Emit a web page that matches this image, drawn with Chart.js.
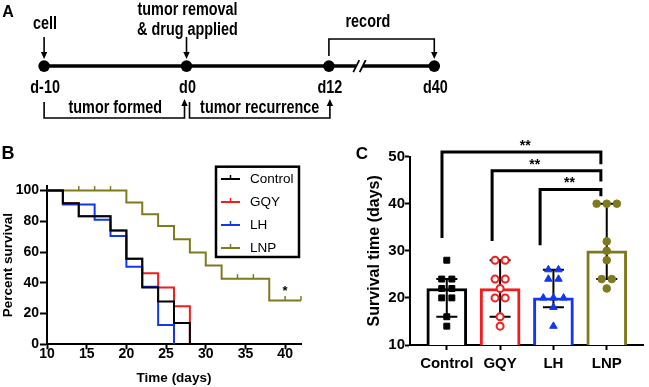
<!DOCTYPE html>
<html>
<head>
<meta charset="utf-8">
<script src="https://cdn.jsdelivr.net/npm/chart.js@4.4.0/dist/chart.umd.min.js"></script>
<style>
  body { margin: 0; background: #fff; }
  #fig { position: relative; width: 649px; height: 387px; overflow: hidden; background: #fff; }
  #fig canvas { position: absolute; }
</style>
</head>
<body>
<div id="fig">
  <canvas id="timeline" width="649" height="130" style="left:0;top:0"></canvas>
  <canvas id="survivalCurve" width="330" height="247" style="left:0;top:140px"></canvas>
  <canvas id="survivalBars" width="319" height="257" style="left:330px;top:130px"></canvas>
</div>
<script>
// ---- A: experiment timeline ----
const timelineDays = [-10, 0, 12, 40];
const timelineLabels = ["d-10", "d0", "d12", "d40"];
const timelineSegments = [1, 1, 0.74]; // last segment is drawn with an axis break

// ---- B: Kaplan-Meier survival ----
const groups = ["Control", "GQY", "LH", "LNP"];
const groupColors = ["#000000", "#f41c1c", "#1436f2", "#7f7a1e"];
const controlTimes = [10, 12, 14, 18, 20, 22, 24, 26, 28];
const controlSurvival = [100, 91.7, 83.3, 74.1, 55.6, 37, 27.8, 13.9, 0];
const gqyTimes = [10, 12, 14, 18, 20, 22, 24, 26, 28];
const gqySurvival = [100, 91.7, 83.3, 74.1, 55.6, 46.3, 37, 24.7, 0];
const lhTimes = [10, 12, 16, 18, 20, 22, 24, 26];
const lhSurvival = [100, 91, 81, 70.5, 50.5, 37.5, 12.5, 0];
const lnpTimes = [10, 20, 22, 24, 26, 28, 30, 32, 38, 42];
const lnpSurvival = [100, 92.3, 84.6, 76.9, 68.3, 59.8, 51.2, 42.7, 28.5, 28.5];
const lnpCensored = [14, 16, 18, 34, 36, 40, 42];
const kmXTicks = [10, 15, 20, 25, 30, 35, 40];
const kmYTicks = [0, 20, 40, 60, 80, 100];

// ---- C: survival time per mouse ----
const barMedian = [22, 22, 20, 30];
const barLow = [16, 16, 18, 24];
const barHigh = [24, 28, 26, 40];
const controlDays = [28, 24, 24, 22, 22, 20, 20, 16, 14];
const gqyDays = [28, 28, 24, 24, 22, 20, 20, 16, 14];
const lhDays = [26, 26, 24, 24, 20, 20, 20, 18, 14];
const lnpDays = [40, 40, 40, 32, 30, 28, 24, 24, 22];
const barYTicks = [10, 20, 30, 40, 50];
const sigLabels = ["**", "**", "**"];
const sigLevel = [51, 47, 43];
const sigLeftEnd = [32.7, 32.1, 31.2];
const sigRightEnd = [48.4, 44.7, 41.6];

const FONT = '"Liberation Sans", Arial, sans-serif';

function narrowText(ctx, text, x, y, size) {
  ctx.save();
  ctx.translate(x, y);
  ctx.scale(0.8, 1);
  ctx.font = "bold " + size + "px " + FONT;
  ctx.textAlign = "center";
  ctx.textBaseline = "middle";
  ctx.fillText(text, 0, 0);
  ctx.restore();
}

function arrowHead(ctx, x, tipY, dir) {
  // dir 1 = pointing down, -1 = pointing up
  ctx.beginPath();
  ctx.moveTo(x, tipY);
  ctx.lineTo(x - 3.2, tipY - dir * 7);
  ctx.lineTo(x + 3.2, tipY - dir * 7);
  ctx.closePath();
  ctx.fill();
}

function path(ctx, pts) {
  ctx.beginPath();
  ctx.moveTo(pts[0][0], pts[0][1]);
  for (let i = 1; i < pts.length; i++) ctx.lineTo(pts[i][0], pts[i][1]);
  ctx.stroke();
}

// ================= A =================
const stagePos = [0];
timelineSegments.forEach((s, i) => stagePos.push(stagePos[i] + s));

const timelinePlugin = {
  id: "timelineNotes",
  afterDatasetsDraw(chart) {
    const ctx = chart.ctx;
    const pts = chart.getDatasetMeta(0).data;
    const xs = pts.map(p => p.x);
    const yl = pts[0].y;
    ctx.save();
    ctx.fillStyle = "#000";
    ctx.strokeStyle = "#000";

    // axis break
    const bx = xs[2] + (xs[3] - xs[2]) * 0.29;
    ctx.fillStyle = "#fff";
    ctx.fillRect(bx - 3.5, yl - 3, 7, 6);
    ctx.fillStyle = "#000";
    ctx.lineWidth = 1.8;
    [-3.2, 3.2].forEach(dx => path(ctx, [[bx + dx - 3, yl + 6], [bx + dx + 3, yl - 6]]));

    ctx.lineWidth = 1.6;
    // arrows into timeline
    [0, 1].forEach(i => {
      path(ctx, [[xs[i], 37], [xs[i], 54]]);
      arrowHead(ctx, xs[i], 59, 1);
    });
    // record bracket
    path(ctx, [[xs[2], 56], [xs[2], 39], [xs[3], 39], [xs[3], 54]]);
    arrowHead(ctx, xs[3], 59, 1);
    // phase brackets below
    path(ctx, [[xs[0], 102], [xs[0], 118], [xs[1] - 2, 118], [xs[1] - 2, 104]]);
    arrowHead(ctx, xs[1] - 2, 99, -1);
    path(ctx, [[xs[1] + 3, 102], [xs[1] + 3, 118], [xs[2] + 1, 118], [xs[2] + 1, 104]]);
    arrowHead(ctx, xs[2] + 1, 99, -1);

    narrowText(ctx, "cell", xs[0] + 1, 24, 18);
    narrowText(ctx, "tumor removal", xs[1] + 1, 10.5, 18);
    narrowText(ctx, "& drug applied", xs[1] + 1, 30.5, 18);
    narrowText(ctx, "record", xs[2] + 39, 22, 18);
    timelineLabels.forEach((t, i) => narrowText(ctx, t, xs[i] + 1, 88, 18));
    narrowText(ctx, "tumor formed", (xs[0] + xs[1]) / 2, 108.5, 18);
    narrowText(ctx, "tumor recurrence", (xs[1] + xs[2]) / 2 + 2, 108.5, 18);

    ctx.font = "bold 16px " + FONT;
    ctx.textAlign = "center";
    ctx.textBaseline = "middle";
    ctx.fillText("A", 8, 13);
    ctx.restore();
  }
};

new Chart(document.getElementById("timeline"), {
  type: "scatter",
  data: {
    datasets: [{
      data: timelineDays.map((d, i) => ({ x: stagePos[i], y: 0 })),
      showLine: true,
      borderColor: "#000",
      borderWidth: 3.5,
      pointRadius: 5.8,
      pointBackgroundColor: "#000",
      pointBorderWidth: 0,
      clip: false
    }]
  },
  options: {
    responsive: false,
    animation: false,
    layout: { padding: { top: 8, left: 0, right: 0, bottom: 0 } },
    plugins: { legend: { display: false }, tooltip: { enabled: false } },
    scales: {
      x: { type: "linear", display: false, min: -0.269, max: 4.207 },
      y: { type: "linear", display: false, min: -1, max: 1 }
    }
  },
  plugins: [timelinePlugin]
});

// ================= B =================
const kmSeries = [
  { t: controlTimes, s: controlSurvival, order: 0 },
  { t: gqyTimes, s: gqySurvival, order: 2 },
  { t: lhTimes, s: lhSurvival, order: 1 },
  { t: lnpTimes, s: lnpSurvival, order: 3 }
];

function survivalAt(times, surv, t) {
  let v = surv[0];
  times.forEach((tt, i) => { if (tt <= t) v = surv[i]; });
  return v;
}

const kmPlugin = {
  id: "kmExtras",
  afterDraw(chart) {
    const ctx = chart.ctx;
    const { x, y } = chart.scales;
    ctx.save();
    // censored marks on LNP
    ctx.strokeStyle = groupColors[3];
    ctx.lineWidth = 1.5;
    lnpCensored.forEach(t => {
      const px = x.getPixelForValue(t);
      const py = y.getPixelForValue(survivalAt(lnpTimes, lnpSurvival, t));
      path(ctx, [[px, py], [px, py - 4.5]]);
    });
    // significance star
    ctx.fillStyle = "#000";
    ctx.font = "bold 13px " + FONT;
    ctx.textAlign = "center";
    ctx.textBaseline = "middle";
    ctx.fillText("*", x.getPixelForValue(40), y.getPixelForValue(34.5));

    // legend
    ctx.fillStyle = "#fff";
    ctx.fillRect(216, 26.7, 83, 90.3);
    ctx.strokeStyle = "#000";
    ctx.lineWidth = 2.5;
    ctx.strokeRect(216, 26.7, 83, 90.3);
    groups.forEach((g, i) => {
      const ly = 39 + i * 23;
      ctx.strokeStyle = groupColors[i];
      ctx.lineWidth = 2;
      path(ctx, [[221, ly], [240, ly]]);
      ctx.lineWidth = 1.5;
      path(ctx, [[230.5, ly], [230.5, ly - 4]]);
      ctx.fillStyle = "#000";
      ctx.font = "13.5px " + FONT;
      ctx.textAlign = "left";
      ctx.fillText(g, 250, ly + 0.5);
    });

    ctx.font = "bold 18px " + FONT;
    ctx.textAlign = "center";
    ctx.fillText("B", 8, 14);
    ctx.restore();
  }
};

const axisFont = size => ({ family: FONT, size: size, weight: "bold", lineHeight: 1 });

new Chart(document.getElementById("survivalCurve"), {
  type: "line",
  data: {
    datasets: kmSeries.map((k, i) => ({
      label: groups[i],
      data: k.t.map((t, j) => ({ x: t, y: k.s[j] })),
      borderColor: groupColors[i],
      borderWidth: 2,
      stepped: "before",
      pointRadius: 0,
      fill: false,
      order: k.order
    }))
  },
  options: {
    responsive: false,
    animation: false,
    layout: { padding: { top: 46, right: 29, left: 0, bottom: 0 } },
    plugins: { legend: { display: false }, tooltip: { enabled: false } },
    scales: {
      x: {
        type: "linear", min: 10, max: 42,
        afterBuildTicks: s => { s.ticks = kmXTicks.map(v => ({ value: v })); },
        afterFit: s => { s.height = 42.7; },
        ticks: { color: "#000", font: axisFont(14), padding: -2, maxRotation: 0 },
        grid: { drawOnChartArea: false, tickLength: 5, tickWidth: 2, tickColor: "#000" },
        border: { color: "#000", width: 2 },
        title: { display: true, text: "Time (days)", color: "#000", font: { family: FONT, size: 13.5, weight: "bold" }, padding: { top: 0, bottom: 1 } }
      },
      y: {
        type: "linear", min: 0, max: 103,
        afterBuildTicks: s => { s.ticks = kmYTicks.map(v => ({ value: v })); },
        afterFit: s => { s.width = 47; },
        ticks: { color: "#000", font: axisFont(14), padding: 1 },
        grid: { drawOnChartArea: false, tickLength: 7, tickWidth: 2, tickColor: "#000" },
        border: { color: "#000", width: 2 },
        title: { display: true, text: "Percent survival", color: "#000", font: { family: FONT, size: 13.5, weight: "bold" }, padding: { top: 0, bottom: 0 } }
      }
    }
  },
  plugins: [kmPlugin]
});

// ================= C =================
const dotSets = [controlDays, gqyDays, lhDays, lnpDays];
const dotStyles = [
  { pointStyle: "rect", radius: 4.2, bg: groupColors[0], bw: 1 },
  { pointStyle: "circle", radius: 3.5, bg: "#fff", bw: 2 },
  { pointStyle: "triangle", radius: 4.3, bg: groupColors[2], bw: 1 },
  { pointStyle: "circle", radius: 3.8, bg: groupColors[3], bw: 1 }
];

function spread(values, center) {
  // spread repeated values side by side
  const counts = {};
  values.forEach(v => { counts[v] = (counts[v] || 0) + 1; });
  const seen = {};
  return values.map(v => {
    const k = seen[v] || 0;
    seen[v] = k + 1;
    return { x: center + (k - (counts[v] - 1) / 2) * 0.19, y: v };
  });
}

const errorBarPlugin = {
  id: "errorBars",
  afterDatasetDraw(chart, args) {
    if (args.index !== 0) return;
    const ctx = chart.ctx;
    const { x, y } = chart.scales;
    ctx.save();
    ctx.strokeStyle = "#000";
    ctx.lineWidth = 2;
    barMedian.forEach((m, i) => {
      const cx = x.getPixelForValue(i);
      const top = y.getPixelForValue(barHigh[i]);
      const bot = y.getPixelForValue(barLow[i]);
      ctx.beginPath();
      ctx.moveTo(cx, top); ctx.lineTo(cx, bot);
      ctx.moveTo(cx - 10.5, top); ctx.lineTo(cx + 10.5, top);
      ctx.moveTo(cx - 10.5, bot); ctx.lineTo(cx + 10.5, bot);
      ctx.stroke();
    });
    ctx.restore();
  }
};

const sigLegX = [[-0.09, 2.89], [0.85, 2.89], [1.75, 2.89]];
const sigTextX = [1.47, 1.65, 2.3];

const bracketPlugin = {
  id: "sigBrackets",
  afterDraw(chart) {
    const ctx = chart.ctx;
    const { x, y } = chart.scales;
    ctx.save();
    ctx.strokeStyle = "#000";
    ctx.fillStyle = "#000";
    ctx.lineWidth = 3;
    ctx.lineJoin = "miter";
    sigLabels.forEach((lab, i) => {
      const x1 = x.getPixelForValue(sigLegX[i][0]);
      const x2 = x.getPixelForValue(sigLegX[i][1]);
      const yb = y.getPixelForValue(sigLevel[i]);
      path(ctx, [[x1, y.getPixelForValue(sigLeftEnd[i])], [x1, yb], [x2, yb], [x2, y.getPixelForValue(sigRightEnd[i])]]);
      ctx.font = "bold 14px " + FONT;
      ctx.textAlign = "center";
      ctx.textBaseline = "middle";
      ctx.fillText(lab, x.getPixelForValue(sigTextX[i]), yb - 6);
    });
    ctx.font = "bold 17px " + FONT;
    ctx.fillText("C", 32, 24);
    ctx.restore();
  }
};

new Chart(document.getElementById("survivalBars"), {
  type: "bar",
  data: {
    datasets: [{
      type: "bar",
      data: barMedian.map((v, i) => ({ x: i, y: v })),
      backgroundColor: "#fff",
      borderColor: groupColors,
      borderWidth: 3,
      borderSkipped: "start",
      barThickness: 40,
      order: 10
    }].concat(dotSets.map((vals, i) => ({
      type: "scatter",
      data: spread(vals, i),
      pointStyle: dotStyles[i].pointStyle,
      pointRadius: dotStyles[i].radius,
      pointBackgroundColor: dotStyles[i].bg,
      pointBorderColor: groupColors[i],
      pointBorderWidth: dotStyles[i].bw,
      showLine: false,
      clip: false,
      order: 0
    })))
  },
  options: {
    responsive: false,
    animation: false,
    layout: { padding: { top: 26.6, right: 2.3, left: 0, bottom: 0 } },
    plugins: { legend: { display: false }, tooltip: { enabled: false } },
    scales: {
      x: {
        type: "linear", min: -0.69, max: 3.68, offset: false,
        afterBuildTicks: s => { s.ticks = groups.map((g, i) => ({ value: i })); },
        afterFit: s => { s.height = 42; },
        ticks: { color: "#000", font: axisFont(15), padding: 6, maxRotation: 0, callback: v => groups[v] },
        grid: { drawOnChartArea: false, offset: false, tickLength: 5, tickWidth: 2, tickColor: "#000" },
        border: { color: "#000", width: 2 }
      },
      y: {
        type: "linear", min: 10, max: 50,
        afterBuildTicks: s => { s.ticks = barYTicks.map(v => ({ value: v })); },
        afterFit: s => { s.width = 80; },
        ticks: { color: "#000", font: axisFont(15), padding: 0 },
        grid: { drawOnChartArea: false, tickLength: 5, tickWidth: 2, tickColor: "#000" },
        border: { color: "#000", width: 2 },
        title: { display: true, text: "Survival time (days)", color: "#000", font: { family: FONT, size: 16, weight: "bold" }, padding: { top: 35, bottom: 0 } }
      }
    }
  },
  plugins: [errorBarPlugin, bracketPlugin]
});
</script>
</body>
</html>
